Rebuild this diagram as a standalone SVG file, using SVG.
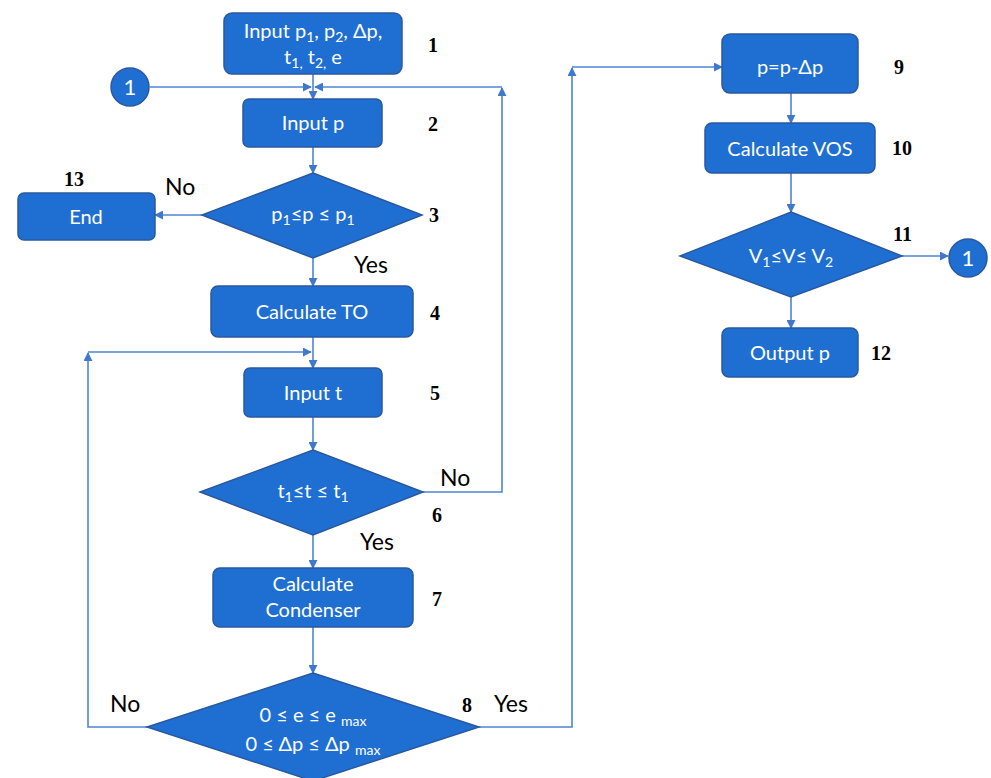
<svg xmlns="http://www.w3.org/2000/svg" width="991" height="778" viewBox="0 0 991 778">
<defs>
<marker id="ah" viewBox="0 0 10 10" refX="9" refY="5" markerWidth="9" markerHeight="9" markerUnits="userSpaceOnUse" orient="auto">
<path d="M0,0 L10,5 L0,10 z" fill="#3f78cc"/>
</marker>
<style>
.box{fill:#1f6fd2;stroke:#2a58a0;stroke-width:1.5}
.t{fill:#ffffff;font-family:Lato,"Open Sans",sans-serif;font-size:20px;text-anchor:middle}
.c{fill:none;stroke:#4f85d4;stroke-width:1.6}
.a{marker-end:url(#ah)}
.n{fill:#000;font-family:"Liberation Serif",serif;font-weight:bold;font-size:20px}
.l{fill:#000;font-family:Lato,"Open Sans",sans-serif;font-size:23px}
.s{font-size:14px}
</style>
</defs>
<rect width="991" height="778" fill="#ffffff"/>
<g id="connectors">
<line class="c a" x1="313" y1="74" x2="313" y2="99"/>
<line class="c a" x1="150" y1="87" x2="311" y2="87"/>
<path class="c a" d="M423,492 H502 V88"/>
<line class="c a" x1="502" y1="87" x2="315" y2="87"/>
<line class="c a" x1="313" y1="147" x2="313" y2="173"/>
<line class="c a" x1="202" y1="215" x2="155" y2="215"/>
<line class="c a" x1="313" y1="258" x2="313" y2="286"/>
<line class="c a" x1="313" y1="337" x2="313" y2="368"/>
<path class="c a" d="M147,727 H88 V353"/>
<line class="c a" x1="88" y1="352" x2="311" y2="352"/>
<line class="c a" x1="313" y1="417" x2="313" y2="450"/>
<line class="c a" x1="313" y1="535" x2="313" y2="568"/>
<line class="c a" x1="313" y1="627" x2="313" y2="673"/>
<path class="c a" d="M479,727 H572 V68"/>
<line class="c a" x1="572" y1="67" x2="722" y2="67"/>
<line class="c a" x1="791" y1="93" x2="791" y2="123"/>
<line class="c a" x1="791" y1="173" x2="791" y2="212"/>
<line class="c a" x1="902" y1="256" x2="948" y2="256"/>
<line class="c a" x1="791" y1="297" x2="791" y2="328"/>
</g>
<g id="n1">
<rect class="box" x="224" y="13" width="178" height="61" rx="8"/>
<text class="t" x="313" y="38">Input p<tspan class="s" dy="4">1</tspan><tspan dy="-4">, p</tspan><tspan class="s" dy="4">2</tspan><tspan dy="-4">, Δp,</tspan></text>
<text class="t" x="313" y="64">t<tspan class="s" dy="4">1,</tspan><tspan dy="-4"> t</tspan><tspan class="s" dy="4">2,</tspan><tspan dy="-4"> e</tspan></text>
<text class="n" x="428" y="52">1</text>
</g>
<g id="c1">
<circle class="box" cx="130" cy="87" r="19"/>
<text class="t" x="130" y="95" style="font-size:22px">1</text>
</g>
<g id="n2">
<rect class="box" x="243" y="99" width="139" height="48" rx="6"/>
<text class="t" x="313" y="130">Input p</text>
<text class="n" x="428" y="131">2</text>
</g>
<g id="n3">
<polygon class="box" points="313,173 422,215 313,258 202,215"/>
<text class="t" x="313" y="221">p<tspan class="s" dy="4">1</tspan><tspan dy="-4">≤p ≤ p</tspan><tspan class="s" dy="4">1</tspan></text>
<text class="n" x="429" y="222">3</text>
<text class="l" x="165" y="195">No</text>
<text class="l" x="354" y="273">Yes</text>
</g>
<g id="n13">
<rect class="box" x="18" y="193" width="137" height="47" rx="6"/>
<text class="t" x="86" y="224">End</text>
<text class="n" x="64" y="186">13</text>
</g>
<g id="n4">
<rect class="box" x="211" y="286" width="202" height="51" rx="7"/>
<text class="t" x="312" y="319">Calculate TO</text>
<text class="n" x="430" y="320">4</text>
</g>
<g id="n5">
<rect class="box" x="244" y="368" width="138" height="49" rx="6"/>
<text class="t" x="313" y="400">Input t</text>
<text class="n" x="430" y="400">5</text>
</g>
<g id="n6">
<polygon class="box" points="313,450 423,492 313,535 200,492"/>
<text class="t" x="313" y="498">t<tspan class="s" dy="4">1</tspan><tspan dy="-4">≤t ≤ t</tspan><tspan class="s" dy="4">1</tspan></text>
<text class="n" x="432" y="522">6</text>
<text class="l" x="440" y="486">No</text>
<text class="l" x="360" y="550">Yes</text>
</g>
<g id="n7">
<rect class="box" x="213" y="568" width="200" height="59" rx="7"/>
<text class="t" x="313" y="591">Calculate</text>
<text class="t" x="313" y="617">Condenser</text>
<text class="n" x="432" y="606">7</text>
</g>
<g id="n8">
<polygon class="box" points="313,673 479,727 313,781 147,727"/>
<text class="t" x="313" y="722">0 ≤ e ≤ e <tspan class="s" dy="4">max</tspan></text>
<text class="t" x="313" y="751">0 ≤ Δp ≤ Δp <tspan class="s" dy="4">max</tspan></text>
<text class="n" x="462" y="712">8</text>
<text class="l" x="110" y="712">No</text>
<text class="l" x="494" y="712">Yes</text>
</g>
<g id="n9">
<rect class="box" x="722" y="34" width="136" height="59" rx="8"/>
<text class="t" x="790" y="74">p=p-Δp</text>
<text class="n" x="894" y="74">9</text>
</g>
<g id="n10">
<rect class="box" x="705" y="123" width="170" height="50" rx="7"/>
<text class="t" x="790" y="156">Calculate VOS</text>
<text class="n" x="892" y="155">10</text>
</g>
<g id="n11">
<polygon class="box" points="791,212 902,256 791,297 680,256"/>
<text class="t" x="791" y="263">V<tspan class="s" dy="4">1</tspan><tspan dy="-4">≤V≤ V</tspan><tspan class="s" dy="4">2</tspan></text>
<text class="n" x="893" y="241">11</text>
</g>
<g id="c2">
<circle class="box" cx="968" cy="258" r="19"/>
<text class="t" x="968" y="266" style="font-size:22px">1</text>
</g>
<g id="n12">
<rect class="box" x="722" y="328" width="136" height="49" rx="7"/>
<text class="t" x="790" y="360">Output p</text>
<text class="n" x="871" y="360">12</text>
</g>
</svg>
